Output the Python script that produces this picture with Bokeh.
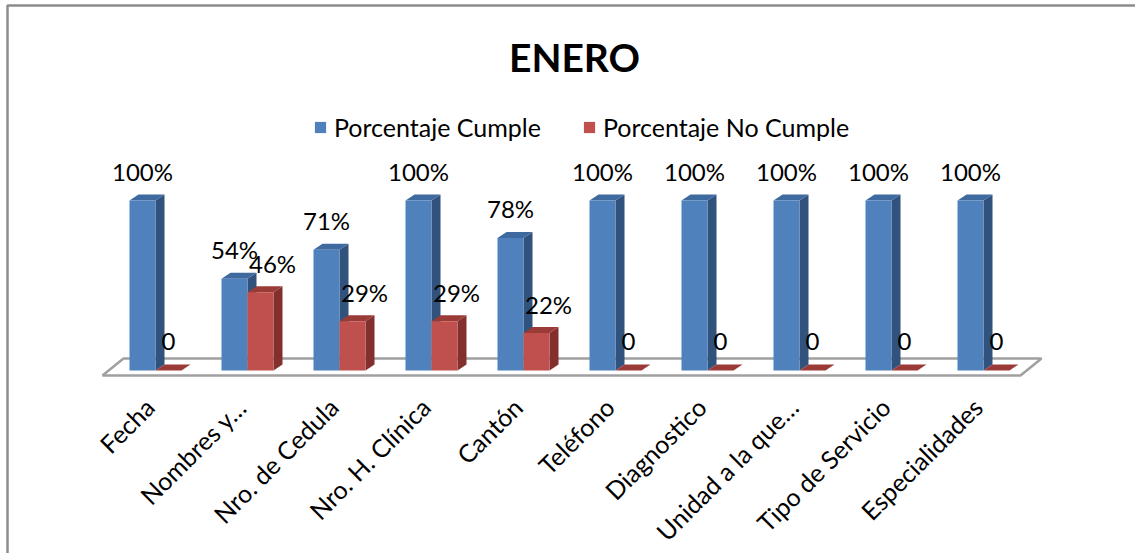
import math
from bokeh.plotting import figure
from bokeh.models import Range1d, Label, Legend, LegendItem, ColumnDataSource
from bokeh.core.properties import value
from bokeh.embed import file_html
from bokeh.resources import INLINE

# ---- data -------------------------------------------------------------
categories = ["Fecha", "Nombres y…", "Nro. de Cedula", "Nro. H. Clínica", "Cantón",
              "Teléfono", "Diagnostico", "Unidad a la que…", "Tipo de Servicio",
              "Especialidades"]
cumple = [100, 54, 71, 100, 78, 100, 100, 100, 100, 100]
no_cumple = [0, 46, 29, 29, 22, 0, 0, 0, 0, 0]
series_names = ["Porcentaje Cumple", "Porcentaje No Cumple"]
chart_title = "ENERO"

# ---- layout (pixels) --------------------------------------------------
W, H = 1135, 553
X0_PX = 155        # pixel of the first category's cluster centre
STEP_PX = 92       # pixels between categories
BASE_PX = 370      # pixel row of the 0 % baseline
PX_PER_PCT = 1.7   # vertical pixels per percentage point

def px_x(px):
    return (px - X0_PX) / STEP_PX

def px_y(py):
    return (BASE_PX - py) / PX_PER_PCT

BAR_W = 26 / STEP_PX          # front face width
DEPTH_X = 9 / STEP_PX         # 3-D depth, horizontal
DEPTH_Y = 6 / PX_PER_PCT      # 3-D depth, vertical
LABEL_GAP = 29 / PX_PER_PCT

FONT = "Lato"

BLUE = dict(front="#4F81BD", side="#30527D", top="#3F6AA0")
RED = dict(front="#C0504D", side="#832F2D", top="#9B3B38")

p = figure(width=W, height=H, x_range=Range1d(px_x(0), px_x(W)),
           y_range=Range1d(px_y(H), px_y(0)), output_backend="svg",
           toolbar_location=None, min_border=0,
           x_axis_location=None, y_axis_location=None)
p.grid.visible = False
p.outline_line_color = None
p.background_fill_color = "white"
p.border_fill_color = "white"

# chart-area border (left and top edges)
p.line(x=[px_x(7), px_x(7), px_x(W + 20)], y=[px_y(H + 20), px_y(5), px_y(5)],
       line_color="#8c8c8c", line_width=2.5)

n = len(categories)
idx = list(range(n))

# floor slab under the columns
fl_front_y, fl_back_y = px_y(375), px_y(358)
fl_left, fl_right = -53 / STEP_PX, (n - 1) + 37 / STEP_PX
fl_shift = 21 / STEP_PX
p.patch(x=[fl_left, fl_right, fl_right + fl_shift, fl_left + fl_shift],
        y=[fl_front_y, fl_front_y, fl_back_y, fl_back_y],
        fill_color="white", line_color="#a0a0a0", line_width=2.5)


def draw_columns(vals, lefts, colors):
    rights = [l + BAR_W for l in lefts]
    side_xs = [[r, r + DEPTH_X, r + DEPTH_X, r] for r in rights]
    side_ys = [[0, DEPTH_Y, v + DEPTH_Y, v] for v in vals]
    top_xs = [[l, r, r + DEPTH_X, l + DEPTH_X] for l, r in zip(lefts, rights)]
    top_ys = [[v, v, v + DEPTH_Y, v + DEPTH_Y] for v in vals]
    p.patches(xs=side_xs, ys=side_ys, fill_color=colors["side"], line_color=None)
    p.patches(xs=top_xs, ys=top_ys, fill_color=colors["top"], line_color=None)
    return p.quad(left=lefts, right=rights, bottom=[0] * len(vals), top=vals,
                  fill_color=colors["front"], line_color=None)


blue_r = draw_columns(cumple, [i - BAR_W for i in idx], BLUE)
red_r = draw_columns(no_cumple, [float(i) for i in idx], RED)

# value labels
def fmt(v):
    return f"{v}%" if v else "0"

blue_lbl = ColumnDataSource(dict(
    x=[i - BAR_W / 2 for i in idx],
    y=[v + LABEL_GAP for v in cumple],
    t=[fmt(v) for v in cumple]))
red_lbl = ColumnDataSource(dict(
    x=[i + BAR_W / 2 + (12 / STEP_PX if v else 0) for i, v in zip(idx, no_cumple)],
    y=[v + LABEL_GAP for v in no_cumple],
    t=[fmt(v) for v in no_cumple]))
for src in (blue_lbl, red_lbl):
    p.text(x="x", y="y", text="t", source=src, text_align="center",
           text_baseline="alphabetic", text_font=value(FONT),
           text_font_size="24px", text_color="black")

# category labels, rotated 45 degrees
p.text(x=[i - 6 / STEP_PX for i in idx], y=[px_y(402)] * n, text=categories,
       angle=math.pi / 4, text_align="right", text_baseline="alphabetic",
       text_font=value(FONT), text_font_size="25px", text_color="black")

# title
p.add_layout(Label(x=px_x(574), y=px_y(56), text=chart_title, text_align="center",
                   text_baseline="alphabetic", text_font=FONT, text_font_style="bold",
                   text_font_size="39px", text_color="black"))

legend = Legend(items=[LegendItem(label=series_names[0], renderers=[blue_r]),
                       LegendItem(label=series_names[1], renderers=[red_r])],
                orientation="horizontal", location=(313, H - 142),
                padding=0, margin=0, spacing=41, glyph_width=14, glyph_height=14,
                label_standoff=7, label_height=14,
                border_line_color=None, background_fill_alpha=0,
                label_text_font=FONT, label_text_font_size="25px",
                label_text_color="black")
p.add_layout(legend)

open("out.html", "w").write(file_html(p, INLINE))
